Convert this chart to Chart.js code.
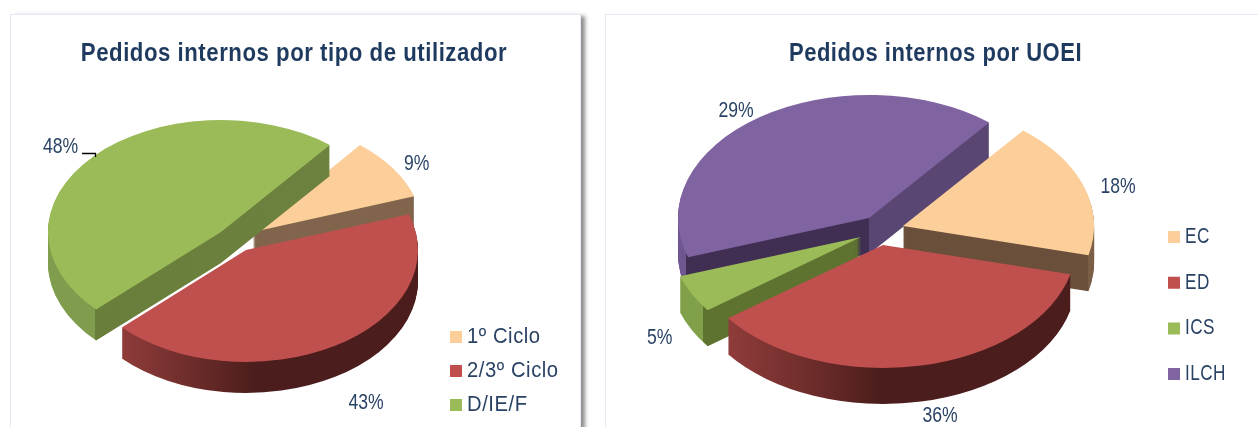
<!DOCTYPE html>
<html><head><meta charset="utf-8">
<script src="https://cdn.jsdelivr.net/npm/chart.js@4/dist/chart.umd.min.js"></script>
<style>
html,body{margin:0;padding:0;background:#fff;width:1258px;height:427px;overflow:hidden}
.card{position:absolute;top:14px;height:500px;background:#fff;border:1px solid #e3eaf4;box-sizing:border-box}
#c1{left:10px;width:571px;box-shadow:4px 2px 4px rgba(80,80,80,.65)}
#c2{left:605px;width:700px}
canvas{position:absolute;top:0}
</style></head><body>
<div class="card" id="c1"></div><div class="card" id="c2"></div>
<canvas id="a" width="588" height="427" style="left:0"></canvas>
<canvas id="b" width="661" height="427" style="left:605px"></canvas>
<script>
const categoriesA = ['1º Ciclo', '2/3º Ciclo', 'D/IE/F'];
const valuesA = [9, 43, 48];
const printedA = ['9%', '43%', '48%'];
const categoriesB = ['EC', 'ED', 'ICS', 'ILCH'];
const valuesB = [18, 36, 5, 41];
const printedB = ['18%', '36%', '5%', '29%'];

const INK = '#2a4365';
const FONT = '"Liberation Sans",Arial,sans-serif';
const LEGEND_SIZE = 22;

// 3-D look of each pie (canvas px): ellipse, depth, slice shifts, wall shading, label nudges
const lookA = {
  cx: 240, cy: 236, rx: [170, 172, 173], ry: 112, depth: 31, rotation: 39,
  order: [0, 2, 1],
  shift: [[13, -4], [6, 14], [-19, -4]],
  nudge: [[24, -4], [31, 57], [-33, -9]],
  walls: [
    [[0, '#80644c'], [588, '#80644c']],
    [[120, '#8f3c3a'], [190, '#6e2d2b'], [255, '#4b1d1c'], [420, '#4b1d1c']],
    [[48, '#7f9d4c'], [95, '#7f9d4c'], [95, '#697e3a'], [330, '#6c823e']]
  ],
  legendX: 450, legendY: 337, legendScale: 0.92, pad: 12, titleScale: 0.8875
};
const lookB = {
  cx: 880, cy: 230, rx: [191, 193, 191, 191], ry: 123, depth: 36, rotation: 39,
  order: [3, 0, 2, 1],
  shift: [[23, -4], [3, 15], [-19, 7], [-11, -12]],
  nudge: [[34, 0], [19, 50], [-32, 44], [-24, -6]],
  walls: [
    [[0, '#6a4f3a'], [1088, '#6a4f3a'], [1088, '#7a5f46'], [1258, '#7a5f46']],
    [[728, '#8f3c3a'], [810, '#6e2d2b'], [882, '#4b1d1c'], [1075, '#4b1d1c']],
    [[679, '#80a04a'], [703, '#80a04a'], [703, '#5f7331'], [865, '#5f7331']],
    [[677, '#6f5690'], [686, '#6f5690'], [686, '#402f53'], [869, '#402f53'], [869, '#5a4672'], [990, '#5a4672']]
  ],
  legendX: 1168 - 605, legendY: 237, legendScale: 0.78, pad: 23.7, titleScale: 0.88
};

function squeeze(ctx, box, x, s, spacing) {
  const orig = box.draw;
  box.draw = function (area) {
    ctx.save();
    ctx.letterSpacing = spacing;
    ctx.translate(x, 0); ctx.scale(s, 1); ctx.translate(-x, 0);
    orig.call(this, area);
    ctx.restore();
  };
}

function pie3d(look, originX, printed, leader) {
  const stroke = LEGEND_SIZE - 10 / look.legendScale;
  return {
    id: 'pie3d',
    afterInit(chart) {
      squeeze(chart.ctx, chart.titleBlock, chart.width / 2, look.titleScale, '0.6px');
      squeeze(chart.ctx, chart.legend, look.legendX, look.legendScale, '0.6px');
    },
    afterLayout(chart) {
      const l = chart.legend;
      const w = l.width, h = l.height;
      l.left = look.legendX + stroke / 2 - look.pad; l.right = l.left + w;
      l.top = look.legendY - LEGEND_SIZE / 2 - look.pad; l.bottom = l.top + h;
    },
    beforeDatasetDraw(chart, args) {
      const ctx = chart.ctx;
      const els = args.meta.data;
      const R = els[0].outerRadius;
      const py = look.ry / R;
      look.order.forEach(i => {
        const el = els[i];
        const px = look.rx[i] / R;
        const tx = look.cx - originX + look.shift[i][0];
        const ty = look.cy + look.shift[i][1];
        const base = el.options;
        const paint = fill => {
          el.options = { backgroundColor: fill, borderColor: 'transparent', borderWidth: 0,
            borderAlign: 'center', circular: true, offset: 0, spacing: 0, borderRadius: 0 };
          el.draw(ctx);
          el.options = base;
        };
        const place = dy => ctx.setTransform(px, 0, 0, py, tx - el.x * px, ty + dy - el.y * py);
        ctx.save();
        const toLocal = X => el.x + (X - originX - tx) / px;
        const stops = look.walls[i];
        const a = stops[0][0], b = stops[stops.length - 1][0];
        const grad = ctx.createLinearGradient(toLocal(a), 0, toLocal(b), 0);
        stops.forEach(s => grad.addColorStop((s[0] - a) / (b - a), s[1]));
        for (let k = look.depth; k >= 1; k--) { place(k); paint(grad); }
        place(0);
        paint(base.backgroundColor);
        ctx.restore();
      });
      ctx.setTransform(1, 0, 0, 1, 0, 0);
      return false;
    },
    afterDatasetsDraw(chart) {
      const ctx = chart.ctx;
      const els = chart.getDatasetMeta(0).data;
      ctx.save();
      ctx.fillStyle = INK;
      ctx.font = '22px ' + FONT;
      ctx.textAlign = 'center';
      ctx.textBaseline = 'middle';
      els.forEach((el, i) => {
        const mid = (el.startAngle + el.endAngle) / 2;
        const x = look.cx - originX + look.shift[i][0] + Math.cos(mid) * look.rx[i] + look.nudge[i][0];
        const y = look.cy + look.shift[i][1] + Math.sin(mid) * look.ry + look.nudge[i][1];
        ctx.save();
        ctx.translate(x, y); ctx.scale(0.8, 1);
        ctx.fillText(printed[i], 0, 0);
        ctx.restore();
      });
      if (leader) {
        ctx.strokeStyle = '#000'; ctx.lineWidth = 1.3;
        ctx.beginPath(); ctx.moveTo(82, 153.5); ctx.lineTo(95.5, 153.5); ctx.lineTo(95.5, 157); ctx.stroke();
      }
      ctx.restore();
    }
  };
}

function build(id, title, cats, vals, printed, look, originX, leader) {
  const stroke = LEGEND_SIZE - 10 / look.legendScale;
  return new Chart(document.getElementById(id), {
    type: 'pie',
    data: { labels: cats, datasets: [{ data: vals, backgroundColor: cats.length === 3
      ? ['#fcce9a', '#c0504d', '#9bbb59'] : ['#fcce9a', '#c0504d', '#9bbb59', '#8064a2'], borderWidth: 0 }] },
    options: {
      responsive: false, animation: false, rotation: look.rotation,
      layout: { padding: 0 },
      plugins: {
        tooltip: { enabled: false },
        title: { display: true, text: title, color: '#1f3a5f',
          font: { family: FONT, size: 25, weight: 'bold' }, padding: { top: 39, bottom: 10 } },
        legend: { position: 'right', align: 'start',
          labels: { color: INK, font: { family: FONT, size: LEGEND_SIZE },
            boxWidth: 12 / look.legendScale - stroke, boxHeight: 12 - stroke, padding: look.pad,
            generateLabels: c => Chart.overrides.pie.plugins.legend.labels.generateLabels(c)
              .map(it => ({ ...it, lineWidth: stroke, strokeStyle: it.fillStyle })) } }
      }
    },
    plugins: [pie3d(look, originX, printed, leader)]
  });
}
build('a', 'Pedidos internos por tipo de utilizador', categoriesA, valuesA, printedA, lookA, 0, true);
build('b', 'Pedidos internos por UOEI', categoriesB, valuesB, printedB, lookB, 605, false);
</script>
</body></html>
